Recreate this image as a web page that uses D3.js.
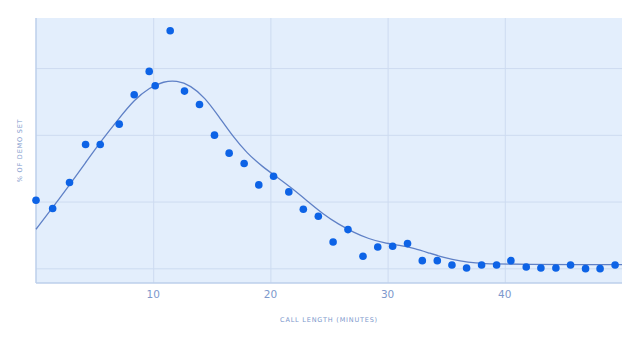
<!DOCTYPE html>
<html>
<head>
<meta charset="utf-8">
<script src="https://cdn.jsdelivr.net/npm/d3@7"></script>
<style>
  body { margin: 0; background: #fff; }
  text { font-family: "DejaVu Sans", sans-serif; }
</style>
</head>
<body>
<svg id="chart" width="640" height="340"></svg>
<script>
const width = 640;
const height = 340;

// observed share per call length (minutes, %)
const minutes = [0, 1.42, 2.86, 4.23, 5.48, 7.1, 8.38, 9.66, 10.17, 11.45,
  12.67, 13.95, 15.23, 16.48, 17.76, 19.01, 20.27, 21.57, 22.81, 24.09,
  25.35, 26.62, 27.9, 29.16, 30.43, 31.7, 32.96, 34.24, 35.49, 36.74,
  38.02, 39.3, 40.52, 41.83, 43.08, 44.36, 45.61, 46.89, 48.13, 49.41];
const share = [2.04, 1.79, 2.57, 3.71, 3.71, 4.32, 5.2, 5.9, 5.47, 7.12,
  5.31, 4.91, 3.99, 3.45, 3.14, 2.5, 2.76, 2.29, 1.77, 1.56,
  0.79, 1.16, 0.36, 0.64, 0.66, 0.74, 0.23, 0.23, 0.1, 0.01,
  0.1, 0.1, 0.23, 0.04, 0.01, 0.01, 0.1, -0.01, -0.01, 0.1];

// fitted curve
const fitX = [0, 1.42, 2.86, 4.2, 5.48, 7.1, 8.38, 9.7, 10.9, 12.0,
  13.2, 14.4, 15.6, 16.8, 18.0, 19.3, 20.6, 21.9, 23.2, 24.5,
  25.8, 27.1, 28.4, 29.7, 31.0, 32.3, 33.6, 34.9, 36.2, 37.5,
  39, 42, 46, 50];
const fitY = [1.17, 1.82, 2.5, 3.15, 3.78, 4.5, 5.05, 5.42, 5.6, 5.63,
  5.48, 5.12, 4.55, 3.95, 3.45, 3.05, 2.72, 2.38, 2.0, 1.62,
  1.32, 1.08, 0.88, 0.76, 0.69, 0.6, 0.45, 0.31, 0.22, 0.16,
  0.13, 0.12, 0.11, 0.11];

const xTicks = [10, 20, 30, 40];
const yTicks = [0, 2, 4, 6];

const margin = { top: 18, right: 18, bottom: 57, left: 36 };

const svg = d3.select("#chart");

const x = d3.scaleLinear().domain([0, 50]).range([margin.left, width - margin.right]);
const y = d3.scaleLinear().domain([-0.44, 7.5]).range([height - margin.bottom, margin.top]);

// plot background
svg.append("rect")
  .attr("x", margin.left)
  .attr("y", margin.top)
  .attr("width", width - margin.left - margin.right)
  .attr("height", height - margin.top - margin.bottom)
  .attr("fill", "#e3eefc");

// grid
svg.append("g")
  .attr("transform", `translate(0,${height - margin.bottom})`)
  .call(d3.axisBottom(x).tickValues(xTicks).tickSize(-(height - margin.top - margin.bottom)).tickFormat(""))
  .call((g) => g.select(".domain").remove())
  .selectAll("line")
  .attr("stroke", "#cddbf0")
  .attr("stroke-width", 1);

svg.append("g")
  .attr("transform", `translate(${margin.left},0)`)
  .call(d3.axisLeft(y).tickValues(yTicks).tickSize(-(width - margin.left - margin.right)).tickFormat(""))
  .call((g) => g.select(".domain").remove())
  .selectAll("line")
  .attr("stroke", "#cddbf0")
  .attr("stroke-width", 1);

// axis lines
svg.append("line")
  .attr("x1", margin.left).attr("x2", width - margin.right)
  .attr("y1", height - margin.bottom).attr("y2", height - margin.bottom)
  .attr("stroke", "#bccfeb").attr("stroke-width", 1.5);
svg.append("line")
  .attr("x1", margin.left).attr("x2", margin.left)
  .attr("y1", margin.top).attr("y2", height - margin.bottom)
  .attr("stroke", "#bccfeb").attr("stroke-width", 1.5);

// tick labels
svg.append("g")
  .selectAll("text")
  .data(xTicks)
  .join("text")
  .attr("x", (d) => x(d))
  .attr("y", 298)
  .attr("text-anchor", "middle")
  .attr("font-size", 10.5)
  .attr("fill", "#7d98cc")
  .text((d) => d);

// axis titles
svg.append("text")
  .attr("x", x(25))
  .attr("y", 322)
  .attr("text-anchor", "middle")
  .attr("font-size", 6.5)
  .attr("letter-spacing", 0.8)
  .attr("fill", "#7d98cc")
  .text("CALL LENGTH (MINUTES)");

svg.append("text")
  .attr("transform", `translate(22,${(margin.top + height - margin.bottom) / 2}) rotate(-90)`)
  .attr("text-anchor", "middle")
  .attr("font-size", 6.5)
  .attr("letter-spacing", 0.8)
  .attr("fill", "#7d98cc")
  .text("% OF DEMO SET");

// fitted curve
const line = d3.line()
  .x((d, i) => x(fitX[i]))
  .y((d) => y(d))
  .curve(d3.curveBasis);

svg.append("path")
  .datum(fitY)
  .attr("d", line)
  .attr("fill", "none")
  .attr("stroke", "#5f80c6")
  .attr("stroke-width", 1.3);

// points
svg.append("g")
  .selectAll("circle")
  .data(share)
  .join("circle")
  .attr("cx", (d, i) => x(minutes[i]))
  .attr("cy", (d) => y(d))
  .attr("r", 3.8)
  .attr("fill", "#0d63e6");
</script>
</body>
</html>
